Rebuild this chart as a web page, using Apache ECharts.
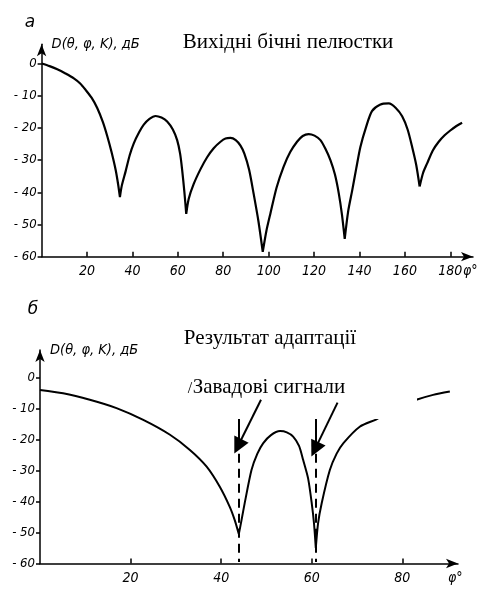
<!DOCTYPE html>
<html><head><meta charset="utf-8">
<script src="https://cdn.jsdelivr.net/npm/echarts@6/dist/echarts.min.js"></script>
<style>html,body{margin:0;padding:0;background:#fff}#c{width:486px;height:590px}</style>
</head><body><div id="c"></div>
<script>
// Panel а: original side lobes
const topPhi = [0,3.5,6.9,10.5,14.2,17,19.4,22,24.5,27,28.9,30.8,32.6,33.7,34.5,35.3,37,38.8,40.6,43,45,47.5,50.2,52.8,55.3,57.8,59.7,61,61.9,62.9,63.7,64.8,67,70,72.9,75.8,78.8,81,83.2,85.5,87.6,89.3,91.4,93.4,95.5,97.4,99,100.8,103.5,106.6,109.5,112.5,115,117.6,120.2,122.8,125,127.2,129.2,130.9,132.3,133.5,135,136.8,138.6,140.4,143,145.5,149,152.9,156,158.8,161.2,163.2,165,166.5,168,169.8,172.3,174.9,177.5,180,182.7,185.2];
const topDb  = [0,-0.8,-1.8,-3.1,-4.6,-6.2,-8.2,-10.6,-13.8,-18.2,-22.5,-27.5,-33,-37.5,-41.5,-38,-33.5,-28.5,-24.8,-21.3,-19,-17.2,-16.3,-16.8,-18,-20.5,-23.8,-28,-33,-40,-46.7,-42,-37.4,-32.8,-29.1,-26.3,-24.3,-23.3,-23.1,-23.8,-25.5,-28,-33,-40.5,-49,-58.5,-52,-46.5,-38.5,-32,-27.5,-24.3,-22.5,-21.9,-22.4,-23.8,-26.5,-30,-34.5,-40.4,-47,-54.5,-46,-39.4,-32.5,-25.9,-19.5,-14.8,-12.8,-12.4,-13.8,-16.4,-20.5,-25.9,-31.5,-38.2,-34,-31,-27,-24.3,-22.3,-20.8,-19.4,-18.4];
// Panel б: result of adaptation
const botPhi = [0,5.1,11,16.9,22.8,28.7,33.1,36.8,39.7,41.9,43,43.9,44.5,45.2,46.7,48,49.3,51,53,54.5,55.9,57.2,58.1,59.2,60,60.5,60.9,61.4,62.2,64,65.5,67,70.6,74.3,78,80.5,83.1,86.8,90.5];
const botDb  = [-3.9,-5,-7.1,-9.8,-13.6,-18.4,-23.3,-28.7,-35.2,-41.7,-46,-50.5,-46,-40.5,-29.8,-24.5,-21.1,-18.5,-17.2,-17.6,-19,-22,-26.5,-32.5,-40.5,-47,-55,-47,-40.5,-29.8,-24.5,-21.1,-15.8,-13.4,-10.5,-8.7,-7.1,-5.5,-4.4];
// Jammer directions and annotation arrows
const jammerPhi = [43.9, 60.9];
const arrowFrom = [[48.8,-7.1],[65.7,-8.0]];
const arrowTo   = [[43.7,-22.1],[60.7,-23.1]];
const topXTicks = [20,40,60,80,100,120,140,160,180];
const botXTicks = [20,40,60,80];
const yTicks = [-60,-50,-40,-30,-20,-10,0];

const titleTop = 'Вихідні бічні пелюстки';
const titleBot = 'Результат адаптації';
const jamLabel = 'Завадові сигнали';
const yName = 'D(θ, φ, K), дБ';
const xName = 'φ°';

// build data, breaking the line at each null (local minimum) so nulls stay sharp cusps
function withCusps(phi, db){
  const out = [];
  for (let i = 0; i < phi.length; i++) {
    out.push([phi[i], db[i]]);
    if (i > 0 && i < phi.length - 1 && db[i] < db[i-1] && db[i] < db[i+1]) {
      out.push([phi[i], '-']);
      out.push([phi[i], db[i]]);
    }
  }
  return out;
}
const hand = {fontStyle:'italic', fontFamily:'"DejaVu Sans Condensed","DejaVu Sans"', color:'#000'};
const yFmt = v => v === 0 ? '0' : '- ' + Math.abs(v);

function xAx(idx, max, ticks, gap){
  return {type:'value', gridIndex:idx, min:0, max:max,
    axisLine:{show:true, onZero:false, symbol:['none','arrow'], symbolSize:[7,12], lineStyle:{color:'#000', width:1.5}},
    axisTick:{show:true, inside:true, length:5, customValues:ticks, lineStyle:{color:'#000', width:1.5}},
    axisLabel:Object.assign({customValues:ticks, fontSize:14, margin:8}, hand),
    splitLine:{show:false},
    name:xName, nameLocation:'end', nameGap:gap, nameMoveOverlap:false,
    nameTextStyle:Object.assign({fontSize:14, align:'left', verticalAlign:'top', padding:[8,0,0,0]}, hand)};
}
function yAx(idx, max){
  return {type:'value', gridIndex:idx, min:-60, max:max,
    axisLine:{show:true, onZero:false, symbol:['none','arrow'], symbolSize:[7,12], lineStyle:{color:'#000', width:1.5}},
    axisTick:{show:true, length:4, customValues:yTicks, lineStyle:{color:'#000', width:1.5}},
    axisLabel:Object.assign({customValues:yTicks, formatter:yFmt, fontSize:13, margin:5}, hand),
    splitLine:{show:false},
    name:yName, nameLocation:'end', nameGap:0, nameMoveOverlap:false,
    nameTextStyle:Object.assign({fontSize:14.5, align:'left', verticalAlign:'middle', padding:[0,0,0,10]}, hand)};
}

const chart = echarts.init(document.getElementById('c'), null, {renderer:'canvas'});
chart.setOption({
  backgroundColor:'#fff',
  animation:false,
  grid:[
    {left:41.6, top:44.2, width:431.4, height:212.5, outerBoundsMode:'none', containLabel:false},
    {left:40, top:350, width:418, height:213.5, outerBoundsMode:'none', containLabel:false}
  ],
  xAxis:[xAx(0,190,topXTicks,-10), xAx(1,92.3,botXTicks,-10)],
  yAxis:[yAx(0,6), yAx(1,9)],
  graphic:[
    {type:'text', x:30, y:23, style:{text:'а', fontSize:17, fontStyle:'italic', fontFamily:'"DejaVu Sans"', fill:'#000', align:'center', verticalAlign:'middle', textAlign:'center', textVerticalAlign:'middle'}},
    {type:'text', x:33, y:310, style:{text:'б', fontSize:17, fontStyle:'italic', fontFamily:'"DejaVu Sans"', fill:'#000', align:'center', verticalAlign:'middle', textAlign:'center', textVerticalAlign:'middle'}},
    {type:'text', x:288, y:42, style:{text:titleTop, fontSize:21, fontFamily:'"Liberation Serif"', fill:'#000', align:'center', verticalAlign:'middle', textAlign:'center', textVerticalAlign:'middle'}},
    {type:'text', x:270, y:338, style:{text:titleBot, fontSize:21, fontFamily:'"Liberation Serif"', fill:'#000', align:'center', verticalAlign:'middle', textAlign:'center', textVerticalAlign:'middle'}},
    {type:'rect', z:10, shape:{x:185, y:366, width:232, height:53}, style:{fill:'#fff'}},
    {type:'text', z:11, x:269, y:387, style:{text:jamLabel, fontSize:21, fontFamily:'"Liberation Serif"', fill:'#000', align:'center', verticalAlign:'middle', textAlign:'center', textVerticalAlign:'middle'}},
    {type:'text', z:11, x:190, y:389, style:{text:'/', fontSize:16, fontFamily:'"Liberation Serif"', fill:'#000', align:'center', verticalAlign:'middle', textAlign:'center', textVerticalAlign:'middle'}}
  ],
  series:[
    {type:'line', xAxisIndex:0, yAxisIndex:0, data:withCusps(topPhi, topDb), smooth:0.25, connectNulls:false, showSymbol:false, symbol:'none', lineStyle:{color:'#000', width:2.2}, z:2},
    {type:'line', xAxisIndex:1, yAxisIndex:1, data:withCusps(botPhi, botDb), smooth:0.25, connectNulls:false, showSymbol:false, symbol:'none', lineStyle:{color:'#000', width:2}, z:2},
    {type:'lines', coordinateSystem:'cartesian2d', xAxisIndex:1, yAxisIndex:1, z:20,
      symbol:['none','none'],
      lineStyle:{color:'#000', width:2, type:'solid', opacity:1},
      data: jammerPhi.map(p => ({coords:[[p,-13.3],[p,-22.6]]}))},
    {type:'lines', coordinateSystem:'cartesian2d', xAxisIndex:1, yAxisIndex:1, z:20,
      symbol:['none','none'],
      lineStyle:{color:'#000', width:2, type:[9,6], opacity:1},
      data: jammerPhi.map(p => ({coords:[[p,-24.5],[p,-59.5]]}))},
    {type:'lines', coordinateSystem:'cartesian2d', xAxisIndex:1, yAxisIndex:1, z:20,
      symbol:['none','triangle'], symbolSize:16,
      lineStyle:{color:'#000', width:2, opacity:1},
      data: arrowFrom.map((f,i) => ({coords:[f, arrowTo[i]]}))}
  ]
});
</script></body></html>
